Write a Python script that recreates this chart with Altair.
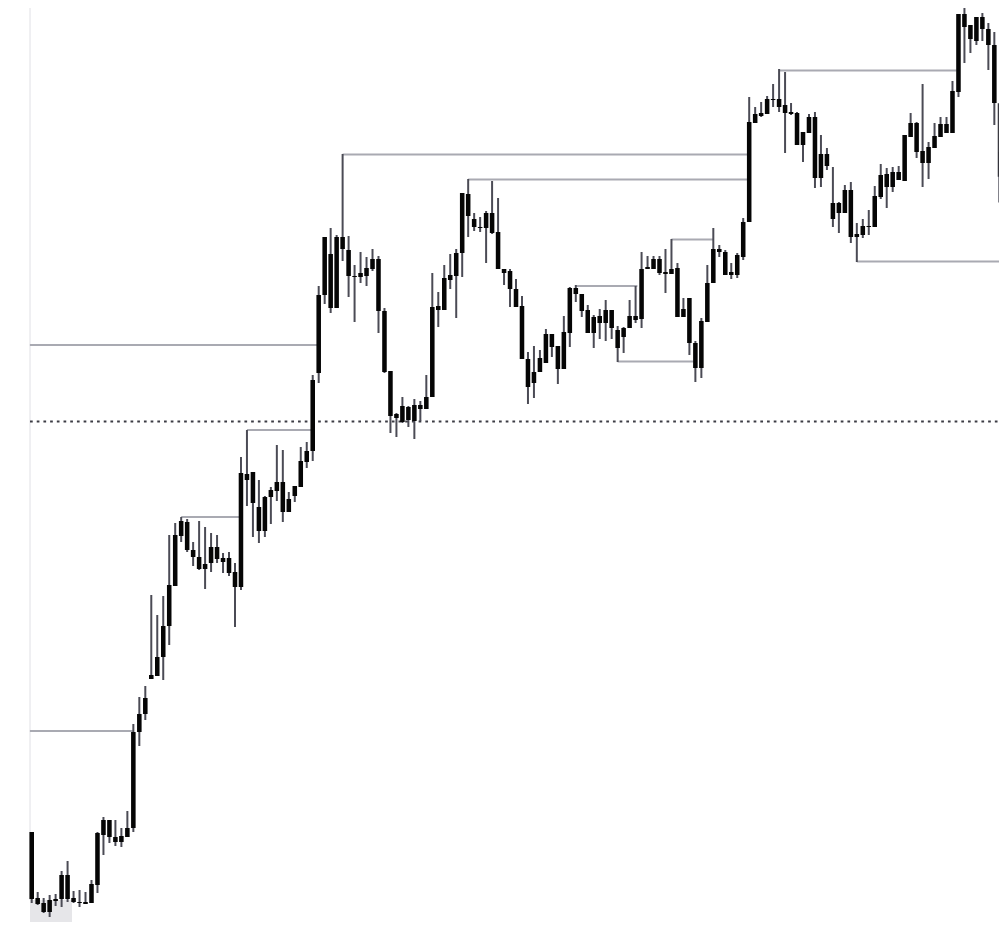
import altair as alt
import pandas as pd

# Candle values (price units), one entry per candle
high = [98, 38, 32, 35, 36, 59, 69, 39, 40, 38, 50, 98, 113, 110, 110, 102, 119, 206, 233, 244,
        335, 315, 334, 395, 407, 413, 411, 388, 409, 403, 397, 395, 377, 378, 367, 473, 500, 458, 450, 434,
        443, 485, 480, 438, 444, 483, 488, 555, 644, 693, 702, 695, 776, 694, 665, 678, 673, 681, 674, 622,
        559, 517, 533, 524, 531, 529, 555, 657, 638, 665, 676, 681, 737, 751, 717, 713, 719, 749, 732, 661,
        661, 651, 634, 578, 584, 580, 601, 596, 584, 614, 643, 645, 636, 625, 615, 621, 630, 620, 604, 603,
        630, 644, 678, 674, 674, 674, 681, 691, 667, 632, 632, 589, 612, 665, 702, 685, 680, 667, 677, 712,
        833, 823, 828, 834, 846, 861, 858, 827, 818, 798, 816, 818, 795, 782, 763, 728, 745, 748, 707, 711,
        720, 744, 766, 762, 763, 764, 795, 817, 808, 846, 788, 807, 813, 813, 849, 916, 924, 905, 913, 917,
        907, 898]
body_top = [98, 32, 27, 30, 31, 55, 55, 32, 28, 28, 46, 97, 110, 110, 93, 94, 102, 198, 216, 232,
            255, 273, 304, 345, 395, 409, 408, 380, 373, 366, 383, 383, 372, 372, 358, 457, 456, 458, 423, 433,
            440, 448, 448, 431, 444, 469, 479, 550, 635, 693, 676, 693, 693, 680, 654, 657, 662, 671, 671, 619,
            559, 516, 524, 523, 525, 525, 533, 623, 624, 652, 655, 677, 737, 736, 711, 703, 717, 717, 698, 661,
            659, 641, 624, 571, 558, 572, 596, 596, 584, 598, 642, 642, 636, 620, 613, 614, 620, 620, 600, 602,
            614, 614, 661, 663, 671, 671, 658, 661, 662, 621, 632, 587, 609, 647, 681, 681, 678, 658, 675, 708,
            808, 816, 817, 831, 831, 831, 825, 818, 817, 798, 813, 813, 776, 776, 727, 727, 740, 740, 696, 704,
            704, 734, 755, 756, 758, 758, 795, 807, 807, 779, 783, 794, 806, 806, 839, 916, 916, 905, 913, 913,
            901, 885]
body_bottom = [31, 26, 18, 18, 29, 31, 31, 28, 27, 26, 27, 45, 95, 93, 88, 88, 93, 102, 198, 216,
               251, 254, 273, 304, 344, 394, 380, 373, 361, 361, 367, 371, 368, 357, 343, 343, 450, 427, 399, 399,
               433, 439, 418, 418, 434, 443, 468, 479, 557, 635, 622, 622, 681, 654, 653, 653, 654, 661, 619, 558,
               514, 512, 508, 510, 509, 521, 521, 533, 620, 620, 650, 654, 677, 714, 703, 702, 702, 697, 661, 657,
               641, 623, 571, 543, 547, 558, 567, 583, 561, 561, 597, 636, 619, 597, 597, 607, 607, 602, 582, 593,
               602, 610, 611, 661, 661, 657, 656, 656, 613, 613, 587, 562, 562, 608, 647, 678, 655, 655, 655, 673,
               708, 807, 814, 816, 830, 823, 817, 816, 785, 785, 797, 752, 752, 764, 711, 717, 717, 693, 693, 695,
               703, 703, 733, 743, 743, 750, 749, 793, 778, 767, 767, 782, 793, 797, 797, 838, 903, 891, 889, 901,
               885, 827]
low = [27, 25, 17, 13, 24, 23, 28, 27, 23, 26, 27, 37, 75, 87, 84, 83, 93, 98, 184, 210,
       251, 254, 250, 285, 344, 388, 378, 364, 360, 341, 358, 367, 357, 354, 303, 340, 424, 393, 387, 393,
       406, 429, 408, 418, 428, 443, 462, 469, 547, 626, 617, 622, 669, 633, 608, 647, 644, 659, 597, 557,
       497, 493, 507, 503, 491, 509, 521, 533, 603, 620, 641, 612, 653, 693, 699, 698, 667, 696, 661, 645,
       623, 623, 571, 526, 532, 558, 567, 573, 546, 561, 583, 628, 613, 597, 582, 591, 589, 591, 568, 577,
       602, 607, 602, 661, 661, 655, 637, 656, 613, 613, 575, 548, 552, 608, 647, 673, 655, 651, 652, 670,
       708, 807, 813, 816, 823, 818, 777, 815, 785, 768, 797, 742, 743, 760, 703, 697, 717, 687, 668, 692,
       695, 703, 731, 722, 738, 750, 749, 793, 772, 743, 751, 782, 793, 797, 797, 833, 867, 877, 885, 889,
       860, 805]

# Horizontal level lines: price, first candle, last candle
level_price = [585, 199, 413, 500, 775.5, 750.5, 644, 690.5, 568.5, 859.5, 923.5, 668.5]
level_start = [-0.3, -0.3, 25, 36, 52, 73, 91, 107, 98, 125, 156, 138]
level_end = [47.8, 16.9, 34.8, 46.8, 119.8, 119.8, 101.3, 114, 110.7, 154.7, 161.7, 161.8]

# Dotted reference price
ref_price = [508.5]

# Right-edge markers
marker_x = [161.8]
marker_bar_low = [440]
marker_bar_high = [534]
box_low = [728.3]
box_high = [777.3]
trail_x = [161.67]
trail_low = [753.3]
trail_high = [826.7]

n = len(high)
candles = pd.DataFrame({
    "i": list(range(n)),
    "high": high,
    "top": body_top,
    "bottom": body_bottom,
    "low": low,
})
levels = pd.DataFrame({"price": level_price, "start": level_start, "end": level_end})

W, H = 991, 914
xs = alt.Scale(domain=[-3.964, 161.78], nice=False, zero=False)
ys = alt.Scale(domain=[8, 922], nice=False, zero=False)

base = alt.Chart(candles)

# light frame on the left and shaded box at the bottom-left
frame_df = pd.DataFrame({"x": [-0.28], "y1": [30], "y2": [940]})
frame = alt.Chart(frame_df).mark_rule(color="#ebebee", strokeWidth=1.5).encode(
    x=alt.X("x:Q", scale=xs, axis=None),
    y=alt.Y("y1:Q", scale=ys, axis=None),
    y2="y2:Q",
)
shade_df = pd.DataFrame({"x1": [-0.28], "x2": [6.74], "y1": [-20], "y2": [30]})
shade = alt.Chart(shade_df).mark_rect(color="#e6e6e9").encode(
    x=alt.X("x1:Q", scale=xs, axis=None), x2="x2:Q",
    y=alt.Y("y1:Q", scale=ys, axis=None), y2="y2:Q",
)

dotted_df = pd.DataFrame({"x1": [-0.28], "x2": [161.6], "p": ref_price})
dotted = alt.Chart(dotted_df).mark_rule(color="#3c3c44", strokeWidth=2, strokeDash=[2.7, 4]).encode(
    x=alt.X("x1:Q", scale=xs, axis=None), x2="x2:Q",
    y=alt.Y("p:Q", scale=ys, axis=None),
)

level_lines = alt.Chart(levels).mark_rule(color="#a9aab2", strokeWidth=2.2).encode(
    x=alt.X("start:Q", scale=xs, axis=None), x2="end:Q",
    y=alt.Y("price:Q", scale=ys, axis=None),
)

wicks = base.mark_rule(color="#4b4b55", strokeWidth=2).encode(
    x=alt.X("i:Q", scale=xs, axis=None),
    y=alt.Y("low:Q", scale=ys, axis=None),
    y2="high:Q",
)

bodies = base.transform_calculate(
    xa="datum.i - 0.38", xb="datum.i + 0.38",
    yb="max(datum.top, datum.bottom + 0.8)",
).mark_rect(color="#050505").encode(
    x=alt.X("xa:Q", scale=xs, axis=None), x2="xb:Q",
    y=alt.Y("bottom:Q", scale=ys, axis=None), y2="yb:Q",
)

bar_df = pd.DataFrame({"x1": marker_x, "x2": [163.5], "lo": marker_bar_low, "hi": marker_bar_high})
dark_bar = alt.Chart(bar_df).mark_rect(color="#40404a").encode(
    x=alt.X("x1:Q", scale=xs, axis=None), x2="x2:Q",
    y=alt.Y("lo:Q", scale=ys, axis=None), y2="hi:Q",
)

box_df = pd.DataFrame({"x1": marker_x, "x2": [163.8], "lo": box_low, "hi": box_high})
box = alt.Chart(box_df).mark_rect(fill="white", fillOpacity=0, stroke="#4a4a55", strokeWidth=1.6).encode(
    x=alt.X("x1:Q", scale=xs, axis=None), x2="x2:Q",
    y=alt.Y("lo:Q", scale=ys, axis=None), y2="hi:Q",
)

trail_df = pd.DataFrame({"x": trail_x, "lo": trail_low, "hi": trail_high})
trail = alt.Chart(trail_df).mark_rule(color="#2e2e36", strokeWidth=1.2).encode(
    x=alt.X("x:Q", scale=xs, axis=None),
    y=alt.Y("lo:Q", scale=ys, axis=None), y2="hi:Q",
)

chart = alt.layer(
    shade, frame, dotted, level_lines, wicks, bodies, dark_bar, box, trail
).properties(
    width=W, height=H, padding=0, autosize=alt.AutoSizeParams(type="none"),
    background="white",
).configure_view(stroke=None)

chart.save("out.html", embed_options={"renderer": "svg", "actions": False})
